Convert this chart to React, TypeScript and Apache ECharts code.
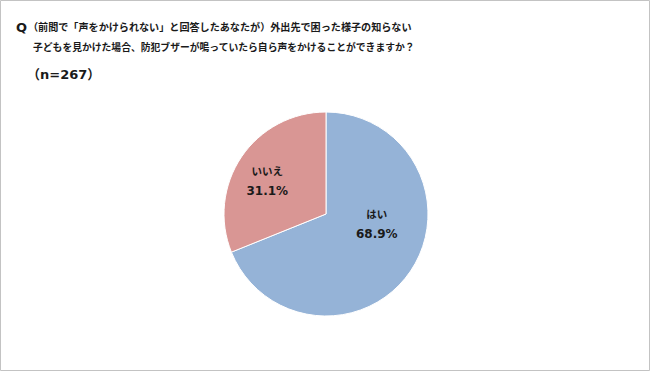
import React, { useEffect, useRef } from "react";
import * as echarts from "echarts";

const categories = ["はい", "いいえ"];
const values = [68.9, 31.1];
const colors = ["#95b3d7", "#d99694"];
const titleQ = "Q";
const titleLines = [
  "（前問で「声をかけられない」と回答したあなたが）外出先で困った様子の知らない",
  "子どもを見かけた場合、防犯ブザーが鳴っていたら自ら声をかけることができますか？",
];
const sampleNote = "（n=267）";

const FONT = "'DejaVu Sans', 'Noto Sans CJK JP', sans-serif";

export default function App() {
  const ref = useRef<HTMLDivElement>(null);
  useEffect(() => {
    if (!ref.current) return;
    const chart = echarts.init(ref.current, undefined, { renderer: "svg" });
    const labelShift = [
      { dx: 6, dy: -20 },
      { dx: -14, dy: -3 },
    ];
    chart.setOption({
      animation: false,
      backgroundColor: "#ffffff",
      graphic: [
        {
          type: "rect",
          shape: { x: 0.5, y: 0.5, width: 649, height: 370 },
          style: { fill: "none", stroke: "#c3c3c3", lineWidth: 1 },
          silent: true,
        },
        {
          type: "text",
          x: 16,
          y: 27,
          style: {
            text: titleQ,
            font: `bold 13px ${FONT}`,
            fill: "#1a1a1a",
            verticalAlign: "middle",
          },
        },
        {
          type: "text",
          x: 28,
          y: 27,
          style: {
            text: titleLines[0],
            font: `bold 10.1px ${FONT}`,
            fill: "#1a1a1a",
            verticalAlign: "middle",
          },
        },
        {
          type: "text",
          x: 33,
          y: 47,
          style: {
            text: titleLines[1],
            font: `bold 9.8px ${FONT}`,
            fill: "#1a1a1a",
            verticalAlign: "middle",
          },
        },
        {
          type: "text",
          x: 27,
          y: 74,
          style: {
            text: sampleNote,
            font: `bold 13px ${FONT}`,
            fill: "#1a1a1a",
            verticalAlign: "middle",
          },
        },
      ],
      series: [
        {
          type: "pie",
          center: [326, 214],
          radius: [0, 102],
          startAngle: 90,
          clockwise: true,
          avoidLabelOverlap: false,
          itemStyle: { borderColor: "#ffffff", borderWidth: 1 },
          label: {
            show: true,
            position: "inside",
            formatter: (p: any) => `{n|${p.name}}\n{p|${Number(p.value).toFixed(1)}%}`,
            rich: {
              n: {
                fontFamily: FONT,
                fontWeight: "bold",
                fontSize: 10.5,
                lineHeight: 20,
                color: "#1a1a1a",
              },
              p: {
                fontFamily: FONT,
                fontWeight: "bold",
                fontSize: 12,
                lineHeight: 20,
                color: "#1a1a1a",
              },
            },
          },
          labelLayout: (params: any) => labelShift[params.dataIndex],
          labelLine: { show: false },
          emphasis: { disabled: true },
          data: categories.map((name, i) => ({
            name,
            value: values[i],
            itemStyle: { color: colors[i] },
          })),
        },
      ],
    });
    return () => chart.dispose();
  }, []);
  return (
    <div
      ref={ref}
      style={{ position: "absolute", left: 0, top: 0, width: 650, height: 371 }}
    />
  );
}
